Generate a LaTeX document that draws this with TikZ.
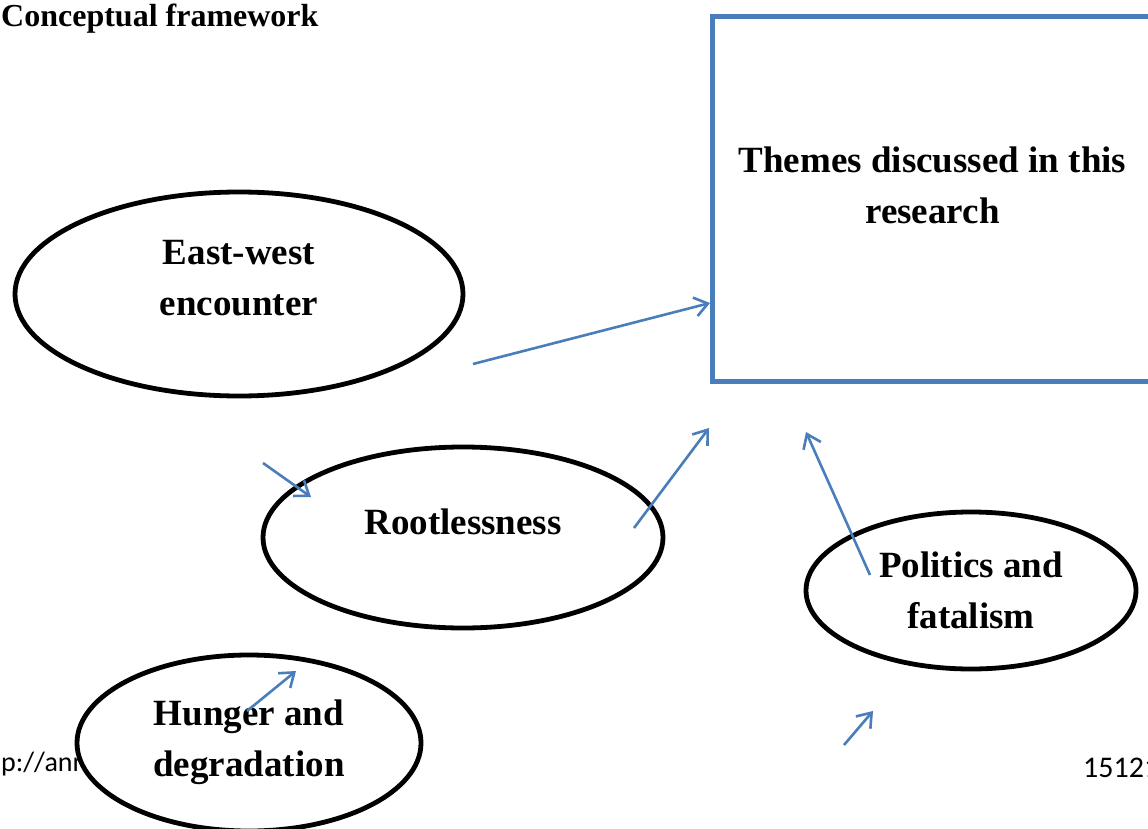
\documentclass[tikz,border=0pt]{standalone}
\usepackage{fontspec}
\setmainfont{Liberation Serif}
\newfontfamily\footfont{Carlito}
\usetikzlibrary{shapes.geometric,arrows.meta}
\definecolor{themeblue}{RGB}{74,126,187}
\begin{document}
\begin{tikzpicture}[x=1pt,y=-1pt,
  idea node/.style={ellipse,draw,line width=4.8pt,fill=white,inner sep=0pt},
  theme box/.style={rectangle,draw=themeblue,line width=5pt,inner sep=0pt},
  idea text/.style={font=\fontsize{37}{51}\selectfont\bfseries,align=center,inner sep=0pt},
  link/.style={draw=themeblue,line width=2.6pt,-{Straight Barb[length=13pt,width=19pt]}}]
\useasboundingbox (0,0) rectangle (1148,829);
\node [anchor=base west,inner sep=0pt,font=\fontsize{32}{38}\selectfont\bfseries] (title) at (1,27) {Conceptual framework};
\begin{scope}[every node/.style={font=\footfont,inner sep=0pt}]
\node [anchor=base west,font=\footfont\fontsize{28}{32}\selectfont] (url) at (1,771) {p://anna};
\node [anchor=base west,font=\footfont\fontsize{30}{34}\selectfont] (pageno) at (1083,777) {15121};
\end{scope}
\node [theme box,minimum width=440pt,minimum height=364pt,label={[idea text,yshift=14pt]center:{Themes discussed in this\\research}}] (themes) at (932.5,199) {};
\node [idea node,minimum width=448pt,minimum height=204pt,label={[idea text,yshift=15.5pt]center:{East-west\\encounter}}] (east) at (239,294) {};
\node [idea node,minimum width=400pt,minimum height=181pt,label={[idea text,yshift=16pt]center:{Rootlessness}}] (roots) at (463,537.5) {};
\node [idea node,minimum width=330pt,minimum height=157pt,label={[idea text]center:{Politics and\\fatalism}}] (politics) at (971,590.5) {};
\node [idea node,minimum width=344pt,minimum height=176pt,label={[idea text,yshift=1pt]center:{Hunger and\\degradation}}] (hunger) at (249,743) {};
% free arrow ends
\coordinate (a1) at (473,364); \coordinate (b1) at (710,303);
\coordinate (a2) at (263,463); \coordinate (b2) at (311,497);
\coordinate (a3) at (634,528); \coordinate (b3) at (709,428);
\coordinate (a4) at (870,575); \coordinate (b4) at (806,432);
\coordinate (a5) at (844,745); \coordinate (b5) at (873,711);
\coordinate (a6) at (247,711); \coordinate (b6) at (296,671);
\path
    (a1) edge[link] (b1)
    (a2) edge[link] (b2)
    (a3) edge[link] (b3)
    (a4) edge[link] (b4)
    (a5) edge[link] (b5)
    (a6) edge[link] (b6)
         ;
\end{tikzpicture}
\end{document}
